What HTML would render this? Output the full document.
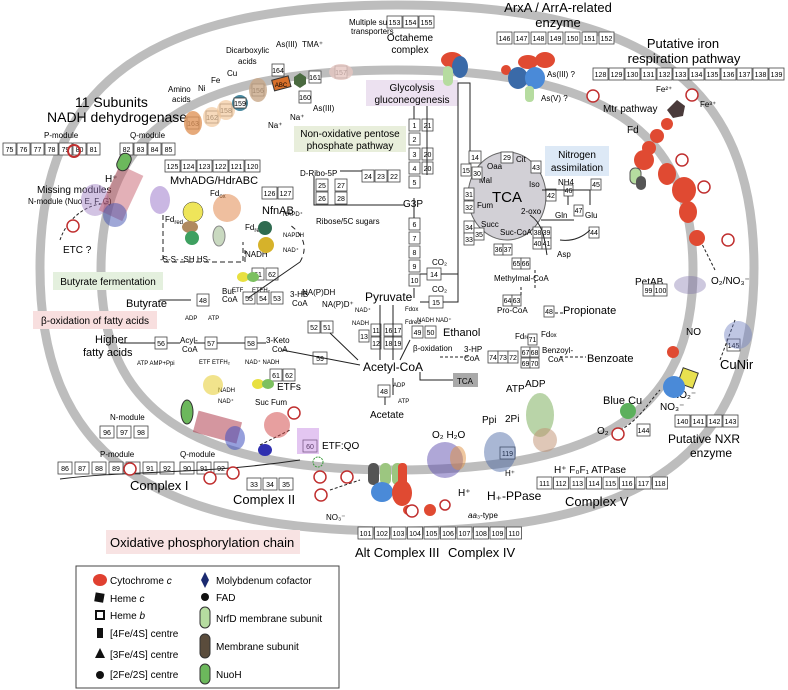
<!DOCTYPE html>
<html><head><meta charset="utf-8"><style>
body{margin:0;background:#fff}
svg{display:block;font-family:"Liberation Sans",sans-serif}
.b rect{fill:#fff;stroke:#444;stroke-width:.8}
.b text{font-size:7px;text-anchor:middle}
.s{font-size:8px}
.m{font-size:10px}
.l{font-size:13px}
.ln{stroke:#222;stroke-width:1;fill:none}
.r{fill:#e04a32}
</style></head><body>
<svg width="788" height="690" viewBox="0 0 788 690">
<g fill="none" stroke="#bdbdbd" stroke-width="9">
<path d="M754,268 C754,84 647,5 397,5 C147,5 40,84 40,268 C40,452 147,531 397,531 C647,531 754,452 754,268Z"/>
<path d="M693,270 C693,130 604,70 397,70 C190,70 101,130 101,270 C101,410 190,470 397,470 C604,470 693,410 693,270Z"/>
</g>
<rect x="366" y="80" width="92" height="26" fill="#ece1f0"/>
<text x="412" y="91" class="m" text-anchor="middle">Glycolysis</text>
<text x="412" y="103" class="m" text-anchor="middle">gluconeogenesis</text>
<rect x="294" y="126" width="112" height="26" fill="#e8eedb"/>
<text x="350" y="137" class="m" text-anchor="middle">Non-oxidative pentose</text>
<text x="350" y="149" class="m" text-anchor="middle">phosphate pathway</text>
<rect x="545" y="146" width="64" height="30" fill="#dde9f6"/>
<text x="577" y="158" class="m" text-anchor="middle">Nitrogen</text>
<text x="577" y="171" class="m" text-anchor="middle">assimilation</text>
<rect x="53" y="272" width="110" height="18" fill="#e4f0de"/>
<text x="108" y="285" class="m" text-anchor="middle">Butyrate fermentation</text>
<rect x="33" y="311" width="124" height="18" fill="#f8dfdf"/>
<text x="95" y="324" class="m" text-anchor="middle">β-oxidation of fatty acids</text>
<rect x="106" y="530" width="194" height="24" fill="#f8e3e3"/>
<text x="110" y="547" style="font-size:13px">Oxidative phosphorylation chain</text>
<ellipse cx="507" cy="196" rx="39" ry="44" fill="#d2d0d6" stroke="#666"/>
<text x="507" y="202" text-anchor="middle" style="font-size:15px">TCA</text>
<g class="s"><text x="487" y="169">Oaa</text><text x="516" y="162">Cit</text><text x="529" y="187">Iso</text><text x="479" y="183">Mal</text><text x="521" y="214">2-oxo</text><text x="477" y="208">Fum</text><text x="481" y="227">Succ</text><text x="500" y="235">Suc-CoA</text></g>
<text x="75" y="107" style="font-size:14px">11 Subunits</text>
<text x="47" y="122" style="font-size:14px">NADH dehydrogenase</text>
<text x="44" y="138" class="s">P-module</text><text x="130" y="138" class="s">Q-module</text>
<text x="410" y="41" class="m" text-anchor="middle">Octaheme</text><text x="410" y="53" class="m" text-anchor="middle">complex</text>
<text x="558" y="12" class="l" text-anchor="middle">ArxA / ArrA-related</text><text x="558" y="27" class="l" text-anchor="middle">enzyme</text>
<text x="683" y="48" class="l" text-anchor="middle">Putative iron</text><text x="684" y="63" class="l" text-anchor="middle">respiration pathway</text>
<text x="603" y="112" class="m">Mtr pathway</text>
<text x="627" y="133" class="m">Fd</text>
<text x="170" y="184" style="font-size:11px">MvhADG/HdrABC</text>
<text x="262" y="214" style="font-size:11px">NfnAB</text>
<text x="63" y="253" class="m">ETC ?</text>
<text x="37" y="193" class="m">Missing modules</text>
<text x="28" y="204" class="s">N-module (Nuo E, F, G)</text>
<text x="105" y="182" class="m">H⁺</text>
<text x="126" y="307" style="font-size:11px">Butyrate</text>
<text x="95" y="343" style="font-size:11px">Higher</text><text x="83" y="356" style="font-size:11px">fatty acids</text>
<text x="137" y="365" style="font-size:6px">ATP AMP+Ppi</text>
<text x="180" y="343" class="s">Acyl-</text><text x="182" y="352" class="s">CoA</text>
<text x="266" y="343" class="s">3-Keto</text><text x="272" y="352" class="s">CoA</text>
<text x="222" y="294" class="s">But-</text><text x="222" y="302" class="s">CoA</text>
<text x="290" y="297" class="s">3-HB</text><text x="292" y="306" class="s">CoA</text>
<text x="185" y="320" style="font-size:6px">ADP</text><text x="208" y="320" style="font-size:6px">ATP</text>
<text x="232" y="292" style="font-size:6px">ETF</text><text x="252" y="292" style="font-size:6px">ETFH₂</text>
<text x="199" y="364" style="font-size:6px">ETF ETFH₂</text>
<text x="245" y="364" style="font-size:6px">NAD⁺ NADH</text>
<text x="277" y="390" class="m">ETFs</text>
<text x="165" y="222" class="s">Fd<tspan dy="2" style="font-size:6px">red</tspan></text>
<text x="210" y="196" class="s">Fd<tspan dy="2" style="font-size:6px">ox</tspan></text>
<text x="160" y="262" class="s">-S-S-  -SH HS-</text>
<text x="245" y="230" class="s">Fd<tspan dy="2" style="font-size:6px">red</tspan></text>
<text x="245" y="257" class="s">NADH</text>
<text x="283" y="216" style="font-size:6px">NAPD⁺</text><text x="283" y="237" style="font-size:6px">NAPDH</text><text x="283" y="252" style="font-size:6px">NAD⁺</text>
<text x="302" y="295" class="s">NA(P)DH</text><text x="322" y="307" class="s">NA(P)D⁺</text>
<text x="365" y="301" style="font-size:12px">Pyruvate</text>
<text x="363" y="371" style="font-size:12px">Acetyl-CoA</text>
<text x="370" y="418" class="m">Acetate</text>
<text x="393" y="387" style="font-size:6px">ADP</text><text x="398" y="403" style="font-size:6px">ATP</text>
<text x="413" y="351" class="s">β-oxidation</text>
<text x="443" y="336" style="font-size:11px">Ethanol</text>
<text x="417" y="322" style="font-size:6px">NADH NAD⁺</text>
<text x="355" y="312" style="font-size:6px">NAD⁺</text><text x="352" y="325" style="font-size:6px">NADH</text>
<text x="405" y="311" style="font-size:6px">Fdox</text><text x="405" y="324" style="font-size:6px">Fdred</text>
<rect x="453" y="373" width="25" height="14" fill="#a9a9a9"/><text x="457" y="384" class="s">TCA</text>
<text x="403" y="207" class="m">G3P</text>
<text x="300" y="176" class="s">D-Ribo-5P</text>
<text x="316" y="224" class="s">Ribose/5C sugars</text>
<text x="494" y="281" class="s">Methylmal-CoA</text>
<text x="497" y="313" class="s">Pro-CoA</text>
<text x="563" y="314" style="font-size:11px">Propionate</text>
<text x="542" y="353" class="s">Benzoyl-</text><text x="548" y="362" class="s">CoA</text>
<text x="587" y="362" style="font-size:11px">Benzoate</text>
<text x="464" y="352" class="s">3-HP</text><text x="464" y="361" class="s">CoA</text>
<text x="515" y="339" class="s">Fd<tspan style="font-size:6px">red</tspan></text><text x="541" y="337" class="s">Fd<tspan style="font-size:6px">ox</tspan></text>
<text x="558" y="185" class="s">NH4</text><text x="555" y="218" class="s">Gln</text><text x="585" y="218" class="s">Glu</text><text x="557" y="257" class="s">Asp</text>
<text x="432" y="265" class="s">CO₂</text><text x="432" y="292" class="s">CO₂</text>
<text x="635" y="285" class="m">PetAB</text>
<text x="711" y="284" class="m">O₂/NO₃⁻</text>
<text x="686" y="335" class="m">NO</text>
<text x="603" y="404" style="font-size:11px">Blue Cu</text>
<text x="720" y="369" class="l">CuNir</text>
<text x="672" y="398" class="m">NO₂⁻</text><text x="660" y="410" class="m">NO₃⁻</text>
<text x="597" y="434" class="m">O₂</text>
<text x="668" y="443" style="font-size:12px">Putative NXR</text><text x="690" y="457" style="font-size:12px">enzyme</text>
<text x="554" y="473" class="m">H⁺ F₀F₁ ATPase</text>
<text x="565" y="506" class="l">Complex V</text>
<text x="487" y="500" style="font-size:12px">H₊-PPase</text>
<text x="505" y="476" class="s">H⁺</text>
<text x="482" y="423" class="m">Ppi</text><text x="505" y="422" class="m">2Pi</text>
<text x="506" y="392" class="m">ATP</text><text x="525" y="387" class="m">ADP</text>
<text x="432" y="438" class="m">O₂ H₂O</text>
<text x="458" y="496" class="m">H⁺</text>
<text x="468" y="518" class="s"><tspan font-style="italic">aa</tspan>₃-type</text>
<text x="355" y="557" class="l">Alt Complex III</text>
<text x="448" y="557" class="l">Complex IV</text>
<text x="130" y="490" class="l">Complex I</text>
<text x="233" y="504" class="l">Complex II</text>
<text x="322" y="449" class="m">ETF:QO</text>
<text x="255" y="405" class="s">Suc Fum</text>
<text x="218" y="392" style="font-size:6px">NADH</text><text x="218" y="403" style="font-size:6px">NAD⁺</text>
<text x="110" y="420" class="s">N-module</text><text x="100" y="457" class="s">P-module</text><text x="180" y="457" class="s">Q-module</text>
<text x="326" y="520" class="s">NO₃⁻</text>
<text x="349" y="25" class="s">Multiple sugar</text><text x="351" y="34" class="s">transporters</text>
<text x="168" y="92" class="s">Amino</text><text x="172" y="102" class="s">acids</text>
<text x="198" y="91" class="s">Ni</text><text x="211" y="83" class="s">Fe</text><text x="227" y="76" class="s">Cu</text>
<text x="226" y="53" class="s">Dicarboxylic</text><text x="238" y="64" class="s">acids</text>
<text x="276" y="47" class="s">As(III)</text><text x="302" y="47" class="s">TMA⁺</text>
<text x="268" y="128" class="s">Na⁺</text><text x="290" y="120" class="s">Na⁺</text><text x="313" y="111" class="s">As(III)</text>
<text x="547" y="77" class="s">As(III) ?</text><text x="541" y="101" class="s">As(V) ?</text>
<text x="656" y="92" class="s">Fe²⁺</text><text x="700" y="107" class="s">Fe³⁺</text>
<g class="b">
<g transform="translate(3,143)"><rect width="13" height="12"/><text x="6.5" y="9">75</text><rect x="14" width="13" height="12"/><text x="20.5" y="9">76</text><rect x="28" width="13" height="12"/><text x="34.5" y="9">77</text><rect x="42" width="13" height="12"/><text x="48.5" y="9">78</text><rect x="56" width="13" height="12"/><text x="62.5" y="9">79</text><rect x="70" width="13" height="12"/><text x="76.5" y="9">80</text><rect x="84" width="13" height="12"/><text x="90.5" y="9">81</text><rect x="117" width="13" height="12"/><text x="123.5" y="9">82</text><rect x="131" width="13" height="12"/><text x="137.5" y="9">83</text><rect x="145" width="13" height="12"/><text x="151.5" y="9">84</text><rect x="159" width="13" height="12"/><text x="165.5" y="9">85</text></g>
<g transform="translate(165,160)"><rect width="15" height="12"/><text x="7.5" y="9">125</text><rect x="16" width="15" height="12"/><text x="23.5" y="9">124</text><rect x="32" width="15" height="12"/><text x="39.5" y="9">123</text><rect x="48" width="15" height="12"/><text x="55.5" y="9">122</text><rect x="64" width="15" height="12"/><text x="71.5" y="9">121</text><rect x="80" width="15" height="12"/><text x="87.5" y="9">120</text></g>
<g transform="translate(262,187)"><rect width="15" height="12"/><text x="7.5" y="9">126</text><rect x="16" width="15" height="12"/><text x="23.5" y="9">127</text></g>
<g transform="translate(387,16)"><rect width="15" height="12"/><text x="7.5" y="9">153</text><rect x="16" width="15" height="12"/><text x="23.5" y="9">154</text><rect x="32" width="15" height="12"/><text x="39.5" y="9">155</text></g>
<g transform="translate(497,32)"><rect width="15" height="12"/><text x="7.5" y="9">146</text><rect x="17" width="15" height="12"/><text x="24.5" y="9">147</text><rect x="34" width="15" height="12"/><text x="41.5" y="9">148</text><rect x="51" width="15" height="12"/><text x="58.5" y="9">149</text><rect x="68" width="15" height="12"/><text x="75.5" y="9">150</text><rect x="85" width="15" height="12"/><text x="92.5" y="9">151</text><rect x="102" width="15" height="12"/><text x="109.5" y="9">152</text></g>
<g transform="translate(593,68)"><rect width="15" height="12"/><text x="7.5" y="9">128</text><rect x="16" width="15" height="12"/><text x="23.5" y="9">129</text><rect x="32" width="15" height="12"/><text x="39.5" y="9">130</text><rect x="48" width="15" height="12"/><text x="55.5" y="9">131</text><rect x="64" width="15" height="12"/><text x="71.5" y="9">132</text><rect x="80" width="15" height="12"/><text x="87.5" y="9">133</text><rect x="96" width="15" height="12"/><text x="103.5" y="9">134</text><rect x="112" width="15" height="12"/><text x="119.5" y="9">135</text><rect x="128" width="15" height="12"/><text x="135.5" y="9">136</text><rect x="144" width="15" height="12"/><text x="151.5" y="9">137</text><rect x="160" width="15" height="12"/><text x="167.5" y="9">138</text><rect x="176" width="15" height="12"/><text x="183.5" y="9">139</text></g>
<g transform="translate(409,119)"><rect width="11" height="12"/><text x="5.5" y="9">1</text><rect y="14" width="11" height="12"/><text x="5.5" y="23">2</text><rect y="29" width="11" height="12"/><text x="5.5" y="38">3</text><rect y="43" width="11" height="12"/><text x="5.5" y="52">4</text><rect y="57" width="11" height="12"/><text x="5.5" y="66">5</text><rect x="13" width="11" height="12"/><text x="18.5" y="9">21</text><rect x="13" y="29" width="11" height="12"/><text x="18.5" y="38">20</text><rect x="13" y="43" width="11" height="12"/><text x="18.5" y="52">20</text></g>
<g transform="translate(409,218)"><rect width="11" height="12"/><text x="5.5" y="9">6</text><rect y="14" width="11" height="12"/><text x="5.5" y="23">7</text><rect y="28" width="11" height="12"/><text x="5.5" y="37">8</text><rect y="42" width="11" height="12"/><text x="5.5" y="51">9</text><rect y="56" width="11" height="12"/><text x="5.5" y="65">10</text></g>
<g transform="translate(427,268)"><rect width="14" height="12"/><text x="7" y="9">14</text><rect x="2" y="28" width="14" height="12"/><text x="9" y="37">15</text></g>
<g transform="translate(362,170)"><rect width="12" height="12"/><text x="6" y="9">24</text><rect x="13" width="12" height="12"/><text x="19" y="9">23</text><rect x="26" width="12" height="12"/><text x="32" y="9">22</text></g>
<g transform="translate(316,179)"><rect width="12" height="12"/><text x="6" y="9">25</text><rect y="13" width="12" height="12"/><text x="6" y="22">26</text><rect x="19" width="12" height="12"/><text x="25" y="9">27</text><rect x="19" y="13" width="12" height="12"/><text x="25" y="22">28</text></g>
<g transform="translate(461,151)"><rect x="8" width="12" height="12"/><text x="14" y="9">14</text><rect y="13" width="10" height="12"/><text x="5" y="22">15</text><rect x="11" y="16" width="10" height="12"/><text x="16" y="25">30</text><rect x="40" y="1" width="12" height="11"/><text x="46" y="9">29</text><rect x="70" y="10" width="10" height="12"/><text x="75" y="19">43</text><rect x="85" y="38" width="10" height="12"/><text x="90" y="47">42</text></g>
<g transform="translate(464,188)"><rect width="10" height="12"/><text x="5" y="9">31</text><rect y="13" width="10" height="12"/><text x="5" y="22">32</text><rect y="33" width="10" height="12"/><text x="5" y="42">34</text><rect y="45" width="10" height="12"/><text x="5" y="54">33</text><rect x="10" y="40" width="10" height="12"/><text x="15" y="49">35</text></g>
<g transform="translate(533,227)"><rect width="9" height="11"/><text x="4.5" y="8">38</text><rect x="9" width="9" height="11"/><text x="13.5" y="8">39</text><rect y="11" width="9" height="11"/><text x="4.5" y="19">40</text><rect x="9" y="11" width="9" height="11"/><text x="13.5" y="19">41</text><rect x="-39" y="17" width="9" height="11"/><text x="-34.5" y="25">36</text><rect x="-30" y="17" width="9" height="11"/><text x="-25.5" y="25">37</text></g>
<g transform="translate(512,258)"><rect width="9" height="11"/><text x="4.5" y="8">65</text><rect x="9" width="9" height="11"/><text x="13.5" y="8">66</text><rect x="-9" y="37" width="9" height="11"/><text x="-4.5" y="45">64</text><rect x="0" y="37" width="9" height="11"/><text x="4.5" y="45">63</text><rect x="32" y="48" width="10" height="11"/><text x="37" y="56">48</text></g>
<g transform="translate(564,185)"><rect width="9" height="11"/><text x="4.5" y="8">46</text><rect x="10" y="20" width="9" height="11"/><text x="14.5" y="28">47</text><rect x="27" y="-6" width="10" height="11"/><text x="32" y="2">45</text><rect x="25" y="42" width="10" height="11"/><text x="30" y="50">44</text></g>
<g transform="translate(359,330)"><rect width="10" height="12"/><text x="5" y="9">13</text><rect x="12" y="-6" width="10" height="12"/><text x="17" y="3">11</text><rect x="12" y="7" width="10" height="12"/><text x="17" y="16">12</text><rect x="25" y="-6" width="9" height="12"/><text x="29.5" y="3">16</text><rect x="34" y="-6" width="9" height="12"/><text x="38.5" y="3">17</text><rect x="25" y="7" width="9" height="12"/><text x="29.5" y="16">18</text><rect x="34" y="7" width="9" height="12"/><text x="38.5" y="16">19</text></g>
<g transform="translate(412,326)"><rect width="11" height="12"/><text x="5.5" y="9">49</text><rect x="13" width="11" height="12"/><text x="18.5" y="9">50</text></g>
<g transform="translate(488,351)"><rect width="10" height="12"/><text x="5" y="9">74</text><rect x="10" width="10" height="12"/><text x="15" y="9">73</text><rect x="20" width="10" height="12"/><text x="25" y="9">72</text><rect x="33" y="-4" width="9" height="10"/><text x="37.5" y="4">67</text><rect x="42" y="-4" width="9" height="10"/><text x="46.5" y="4">68</text><rect x="33" y="7" width="9" height="10"/><text x="37.5" y="15">69</text><rect x="42" y="7" width="9" height="10"/><text x="46.5" y="15">70</text><rect x="40" y="-17" width="9" height="11"/><text x="44.5" y="-9">71</text></g>
<g transform="translate(308,321)"><rect width="12" height="12"/><text x="6" y="9">52</text><rect x="13" width="12" height="12"/><text x="19" y="9">51</text></g>
<g transform="translate(313,352)"><rect width="14" height="12"/><text x="7" y="9">59</text></g>
<g transform="translate(243,292)"><rect width="12" height="12"/><text x="6" y="9">55</text><rect x="14" width="12" height="12"/><text x="20" y="9">54</text><rect x="28" width="12" height="12"/><text x="34" y="9">53</text><rect x="9" y="-24" width="12" height="12"/><text x="15" y="-15">61</text><rect x="23" y="-24" width="12" height="12"/><text x="29" y="-15">62</text></g>
<g transform="translate(197,294)"><rect width="12" height="12"/><text x="6" y="9">48</text></g>
<g transform="translate(155,337)"><rect width="12" height="12"/><text x="6" y="9">56</text></g>
<g transform="translate(205,337)"><rect width="12" height="12"/><text x="6" y="9">57</text><rect x="40" width="12" height="12"/><text x="46" y="9">58</text></g>
<g transform="translate(270,369)"><rect width="12" height="12"/><text x="6" y="9">61</text><rect x="13" width="12" height="12"/><text x="19" y="9">62</text></g>
<g transform="translate(378,385)"><rect width="12" height="12"/><text x="6" y="9">48</text></g>
<g transform="translate(100,426)"><rect width="14" height="12"/><text x="7" y="9">96</text><rect x="17" width="14" height="12"/><text x="24" y="9">97</text><rect x="34" width="14" height="12"/><text x="41" y="9">98</text></g>
<g transform="translate(58,462)"><rect width="14" height="12"/><text x="7" y="9">86</text><rect x="17" width="14" height="12"/><text x="24" y="9">87</text><rect x="34" width="14" height="12"/><text x="41" y="9">88</text><rect x="51" width="14" height="12"/><text x="58" y="9">89</text><rect x="68" width="14" height="12"/><text x="75" y="9">90</text><rect x="85" width="14" height="12"/><text x="92" y="9">91</text><rect x="102" width="14" height="12"/><text x="109" y="9">92</text><rect x="122" width="14" height="12"/><text x="129" y="9">90</text><rect x="139" width="14" height="12"/><text x="146" y="9">91</text><rect x="156" width="14" height="12"/><text x="163" y="9">92</text></g>
<g transform="translate(247,478)"><rect width="14" height="12"/><text x="7" y="9">33</text><rect x="16" width="14" height="12"/><text x="23" y="9">34</text><rect x="32" width="14" height="12"/><text x="39" y="9">35</text></g>
<g transform="translate(303,440)"><rect width="14" height="12"/><text x="7" y="9">60</text></g>
<g transform="translate(500,447)"><rect width="15" height="12"/><text x="7.5" y="9">119</text></g>
<g transform="translate(358,527)"><rect width="15" height="12"/><text x="7.5" y="9">101</text><rect x="16.5" width="15" height="12"/><text x="24" y="9">102</text><rect x="33" width="15" height="12"/><text x="40.5" y="9">103</text><rect x="49.5" width="15" height="12"/><text x="57" y="9">104</text><rect x="66" width="15" height="12"/><text x="73.5" y="9">105</text><rect x="82.5" width="15" height="12"/><text x="90" y="9">106</text><rect x="99" width="15" height="12"/><text x="106.5" y="9">107</text><rect x="115.5" width="15" height="12"/><text x="123" y="9">108</text><rect x="132" width="15" height="12"/><text x="139.5" y="9">109</text><rect x="148.5" width="15" height="12"/><text x="156" y="9">110</text></g>
<g transform="translate(537,477)"><rect width="15" height="12"/><text x="7.5" y="9">111</text><rect x="16.5" width="15" height="12"/><text x="24" y="9">112</text><rect x="33" width="15" height="12"/><text x="40.5" y="9">113</text><rect x="49.5" width="15" height="12"/><text x="57" y="9">114</text><rect x="66" width="15" height="12"/><text x="73.5" y="9">115</text><rect x="82.5" width="15" height="12"/><text x="90" y="9">116</text><rect x="99" width="15" height="12"/><text x="106.5" y="9">117</text><rect x="115.5" width="15" height="12"/><text x="123" y="9">118</text></g>
<g transform="translate(675,415)"><rect width="15" height="12"/><text x="7.5" y="9">140</text><rect x="16" width="15" height="12"/><text x="23.5" y="9">141</text><rect x="32" width="15" height="12"/><text x="39.5" y="9">142</text><rect x="48" width="15" height="12"/><text x="55.5" y="9">143</text></g>
<g transform="translate(637,424)"><rect width="13" height="12"/><text x="6.5" y="9">144</text></g>
<g transform="translate(727,339)"><rect width="13" height="12"/><text x="6.5" y="9">145</text></g>
<g transform="translate(643,284)"><rect width="11" height="12"/><text x="5.5" y="9">99</text><rect x="11" width="13" height="12"/><text x="17.5" y="9">100</text></g>
<g transform="translate(335,66)"><rect width="12" height="12"/><text x="6" y="9">157</text></g>
<g transform="translate(187,117)"><rect width="12" height="12"/><text x="6" y="9">163</text></g>
<g transform="translate(206,111)"><rect width="12" height="12"/><text x="6" y="9">162</text></g>
<g transform="translate(220,104)"><rect width="12" height="12"/><text x="6" y="9">158</text></g>
<g transform="translate(252,84)"><rect width="12" height="12"/><text x="6" y="9">156</text></g>
<g transform="translate(272,64)"><rect width="12" height="12"/><text x="6" y="9">164</text></g>
<g transform="translate(299,91)"><rect width="12" height="12"/><text x="6" y="9">160</text></g>
<g transform="translate(309,71)"><rect width="12" height="12"/><text x="6" y="9">161</text></g>
</g>
<ellipse cx="193" cy="123" rx="9" ry="12" fill="#e0955a" opacity=".8"/>
<ellipse cx="212" cy="117" rx="9" ry="10" fill="#f2c99e" opacity=".7"/>
<ellipse cx="226" cy="110" rx="9" ry="10" fill="#f2c99e" opacity=".7"/>
<circle cx="240" cy="103" r="8" fill="#4a8aa0"/><rect x="234" y="98" width="12" height="10" fill="#fff" stroke="#333" stroke-width=".8"/><text x="240" y="106" style="font-size:7px" text-anchor="middle">159</text>
<ellipse cx="258" cy="90" rx="9" ry="12" fill="#c8a888" opacity=".8"/>
<rect x="273" y="78" width="17" height="11" fill="#d8702a" stroke="#333" transform="rotate(-15 281 84)"/><text x="281" y="87" style="font-size:6px" text-anchor="middle">ABC</text>
<path d="M300 73 L306 77 L306 84 L300 88 L294 84 L294 77Z" fill="#4a6a40"/>
<ellipse cx="341" cy="72" rx="12" ry="8" fill="#e5c5c0" opacity=".8"/>
<g class="ln">
<path d="M414 106 V119 M414 198 V218 M414 288 V298 M427 106 V175 M340 171 H362 M314 176 V205 H404"/>
<path d="M441 274 H458 V83 H470 V151 M443 302 H458 V274 M420 274 H427 M420 302 H429"/>
<path d="M380 305 V360 M393 305 V360 M410 340 L400 360"/>
<path d="M282 350 L360 365 M330 333 L358 360 M248 298 L300 262 M191 300 L160 300 M120 343 L155 343 M167 343 L180 343 M194 343 L205 343 M217 343 L245 343 M257 343 L266 343"/>
<path d="M393 378 V395 M385 397 V405 M420 372 V380 H453"/>
<path d="M535 270 V290 M521 295 V285 M555 313 H563 M560 357 H586 M468 357 H440" stroke-dasharray="3 2"/>
<path d="M542 190 H590 V205 M568 196 V205 M541 220 H574 M530 215 C545 225 545 245 547 255 M560 240 C575 242 585 235 590 230"/>
<path d="M163 215 V262 H243 V242 M245 262 V250" stroke-dasharray="5 3"/>
<path d="M60 240 C70 210 100 200 110 205" stroke-dasharray="3 2"/>
<path d="M300 262 C310 245 300 232 290 225" stroke-dasharray="5 4"/>
<path d="M260 445 L290 430 M330 490 L360 480 M620 430 C640 420 650 400 660 390" stroke-dasharray="3 2"/>
<path d="M715 270 L700 240 M720 360 L735 320" stroke-dasharray="3 2"/>
<path d="M60 479 C130 470 200 475 300 460"/>
</g>
<g>
<ellipse cx="95" cy="200" rx="14" ry="16" fill="#9c7ac0" opacity=".45"/>
<rect x="108" y="168" width="26" height="50" fill="#c05060" opacity=".45" transform="rotate(25 121 193)"/>
<rect x="118" y="153" width="12" height="18" rx="6" fill="#6cb85c" stroke="#333" transform="rotate(25 124 162)"/>
<ellipse cx="115" cy="215" rx="12" ry="12" fill="#4050b0" opacity=".5"/>
<ellipse cx="160" cy="200" rx="10" ry="14" fill="#8a60c0" opacity=".45"/>
<circle cx="193" cy="212" r="10" fill="#eee55a" stroke="#333" stroke-width=".5"/><ellipse cx="190" cy="227" rx="8" ry="6" fill="#b08a60"/><circle cx="192" cy="238" r="7" fill="#3ea060"/>
<ellipse cx="227" cy="208" rx="14" ry="14" fill="#e08040" opacity=".5"/>
<ellipse cx="219" cy="236" rx="6" ry="10" fill="#c9d9c0" stroke="#888"/>
<circle cx="265" cy="228" r="7" fill="#2f6b50"/><circle cx="266" cy="245" r="8" fill="#d6b22a"/>
<ellipse cx="243" cy="277" rx="6" ry="5" fill="#e8e040"/><ellipse cx="253" cy="277" rx="6" ry="5" fill="#7cc060"/>
<ellipse cx="258" cy="384" rx="6" ry="5" fill="#e8e040"/><ellipse cx="268" cy="384" rx="6" ry="5" fill="#7cc060"/>
<ellipse cx="213" cy="385" rx="10" ry="10" fill="#e8d040" opacity=".6"/>
<ellipse cx="187" cy="412" rx="6" ry="12" fill="#6cb85c" stroke="#333"/>
<rect x="195" y="416" width="45" height="22" fill="#b04050" opacity=".55" transform="rotate(15 217 427)"/>
<ellipse cx="235" cy="438" rx="10" ry="12" fill="#4050c0" opacity=".55"/>
<ellipse cx="277" cy="425" rx="13" ry="13" fill="#d04040" opacity=".5"/>
<ellipse cx="265" cy="450" rx="7" ry="6" fill="#3030b0"/>
<rect x="297" y="428" width="22" height="26" fill="#c080e0" opacity=".45"/>
<circle cx="318" cy="462" r="5" fill="none" stroke="#3a9a3a" stroke-dasharray="2 1"/>
<rect x="368" y="463" width="11" height="22" rx="5" fill="#555"/><rect x="380" y="463" width="11" height="22" rx="5" fill="#9cc680"/><rect x="392" y="463" width="11" height="22" rx="5" fill="#9cc680"/><rect x="398" y="463" width="9" height="28" rx="4" fill="#e04a32"/>
<ellipse cx="382" cy="492" rx="11" ry="10" fill="#4a8ad8"/><ellipse cx="402" cy="493" rx="10" ry="13" class="r"/>
<circle cx="408" cy="510" r="5" class="r"/><circle cx="430" cy="510" r="6" class="r"/><circle cx="445" cy="505" r="5" class="r"/>
<ellipse cx="445" cy="460" rx="18" ry="18" fill="#6050b0" opacity=".5"/><ellipse cx="458" cy="458" rx="8" ry="12" fill="#e09040" opacity=".5"/>
<ellipse cx="500" cy="452" rx="16" ry="20" fill="#4060a0" opacity=".45"/>
<ellipse cx="540" cy="415" rx="14" ry="22" fill="#80b060" opacity=".55"/><ellipse cx="545" cy="440" rx="12" ry="12" fill="#c09070" opacity=".5"/>
<ellipse cx="738" cy="335" rx="14" ry="14" fill="#7080c0" opacity=".45"/>
<ellipse cx="690" cy="285" rx="16" ry="9" fill="#7060a0" opacity=".35"/>
<rect x="680" y="370" width="16" height="16" fill="#e8e050" stroke="#333" transform="rotate(20 688 378)"/>
<circle cx="674" cy="387" r="11" fill="#4a8ad8"/>
<circle cx="673" cy="352" r="6" class="r"/>
<circle cx="628" cy="411" r="8" fill="#5cb05c"/>
<ellipse cx="452" cy="60" rx="11" ry="8" class="r"/><ellipse cx="460" cy="67" rx="8" ry="11" fill="#3a6aa8"/><rect x="443" y="66" width="10" height="20" rx="5" fill="#b6dca0"/>
<ellipse cx="528" cy="62" rx="10" ry="7" class="r"/><ellipse cx="545" cy="60" rx="10" ry="8" class="r"/><ellipse cx="506" cy="70" rx="5" ry="5" class="r"/>
<ellipse cx="518" cy="78" rx="10" ry="11" fill="#3a6aa8"/><ellipse cx="535" cy="78" rx="10" ry="11" fill="#4a8ad8"/><rect x="525" y="86" width="9" height="16" rx="4" fill="#b6dca0"/>
<path d="M677 100 L685 106 L683 116 L673 118 L667 110 Z" fill="#4a3a3a"/>
<circle cx="667" cy="124" r="6" class="r"/><circle cx="657" cy="136" r="7" class="r"/><circle cx="649" cy="148" r="7" class="r"/>
<ellipse cx="644" cy="160" rx="10" ry="10" class="r"/>
<rect x="630" y="168" width="11" height="16" rx="5" fill="#b6dca0" stroke="#555"/><rect x="636" y="176" width="10" height="14" rx="5" fill="#555"/>
<ellipse cx="667" cy="174" rx="9" ry="11" class="r"/>
<ellipse cx="684" cy="190" rx="12" ry="13" class="r"/>
<ellipse cx="688" cy="212" rx="9" ry="11" class="r"/>
<ellipse cx="697" cy="238" rx="8" ry="8" class="r"/>
</g>
<g fill="#fff" stroke="#c03030" stroke-width="1.5"><circle cx="73" cy="226" r="6"/><circle cx="233" cy="473" r="6"/><circle cx="294" cy="413" r="6"/><circle cx="320" cy="477" r="6"/><circle cx="321" cy="495" r="6"/><circle cx="347" cy="477" r="6"/><circle cx="412" cy="511" r="6"/><circle cx="445" cy="505" r="5"/><circle cx="618" cy="434" r="6"/><circle cx="593" cy="96" r="6"/><circle cx="692" cy="95" r="6"/><circle cx="682" cy="160" r="6"/><circle cx="704" cy="187" r="6"/><circle cx="728" cy="240" r="6"/><circle cx="130" cy="469" r="6"/><circle cx="210" cy="478" r="6"/></g>
<circle cx="74" cy="151" r="6" fill="none" stroke="#c03030" stroke-width="2"/>
<!-- legend -->
<rect x="76" y="566" width="263" height="122" fill="#fff" stroke="#444"/>
<g style="font-size:10px">
<ellipse cx="100" cy="580" rx="7" ry="6" fill="#e04030"/><text x="110" y="584">Cytochrome <tspan font-style="italic">c</tspan></text>
<rect x="95" y="593" width="9" height="9" fill="#111" transform="rotate(10 99 597)"/><text x="110" y="602">Heme <tspan font-style="italic">c</tspan></text>
<rect x="96" y="611" width="8" height="8" fill="#fff" stroke="#111" stroke-width="2"/><text x="110" y="619">Heme <tspan font-style="italic">b</tspan></text>
<rect x="97" y="628" width="6" height="10" fill="#111"/><text x="110" y="637">[4Fe/4S] centre</text>
<path d="M95 658 L100 648 L105 658Z" fill="#111"/><text x="110" y="658">[3Fe/4S] centre</text>
<circle cx="100" cy="675" r="4" fill="#111"/><text x="110" y="678">[2Fe/2S] centre</text>
<path d="M205 572 L209 580 L205 588 L201 580Z" fill="#1a2a70"/><text x="216" y="584">Molybdenum cofactor</text>
<circle cx="205" cy="597" r="4" fill="#111"/><text x="216" y="601">FAD</text>
<rect x="200" y="607" width="10" height="21" rx="5" fill="#b6dca0" stroke="#333"/><text x="216" y="622">NrfD membrane subunit</text>
<rect x="200" y="634" width="10" height="24" rx="5" fill="#5a4c3c" stroke="#333"/><text x="216" y="650">Membrane subunit</text>
<rect x="200" y="664" width="10" height="20" rx="5" fill="#6cb85c" stroke="#333"/><text x="216" y="678">NuoH</text>
</g>
</svg>
</body></html>
